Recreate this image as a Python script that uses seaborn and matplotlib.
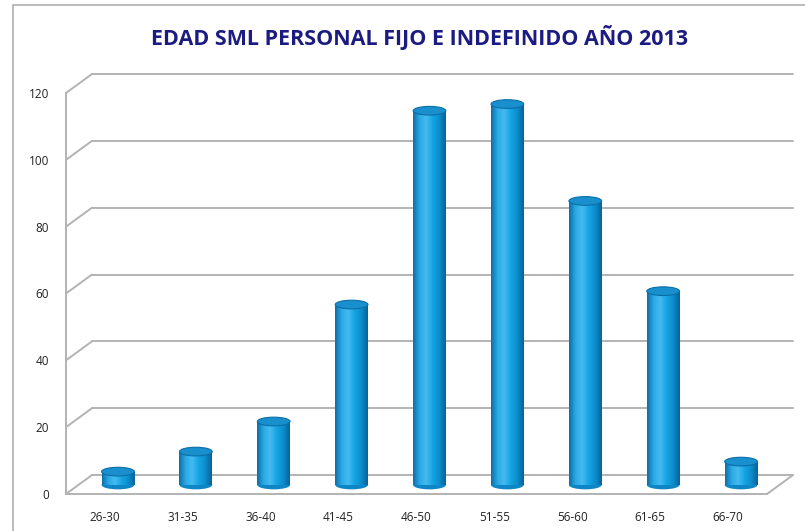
import seaborn as sns
import matplotlib.pyplot as plt
import matplotlib.transforms as mtransforms
from matplotlib.colors import LinearSegmentedColormap
from matplotlib.patches import Ellipse, Rectangle
import numpy as np
import pandas as pd

age_groups = ["26-30", "31-35", "36-40", "41-45", "46-50", "51-55", "56-60", "61-65", "66-70"]
counts = [4, 10, 19, 54, 112, 114, 85, 58, 7]
y_ticks = [0, 20, 40, 60, 80, 100, 120]

title = "EDAD SML PERSONAL FIJO E INDEFINIDO AÑO 2013"

df = pd.DataFrame({"Edad": age_groups, "Personal": counts})

sns.set_style("white")
plt.rcParams["font.family"] = ["Open Sans", "DejaVu Sans"]

fig = plt.figure(figsize=(8.05, 5.31), dpi=100)
ax = fig.add_axes([66 / 805, 37 / 531, (767 - 66) / 805, (494 - 93) / 531])

sns.barplot(x="Edad", y="Personal", data=df, color="#13a2e0", width=0.42,
            saturation=1, ax=ax, zorder=3)
ax.set_xlim(-0.5, len(age_groups) - 0.5)
ax.set_ylim(0, 120)

# depth offsets: bars stand halfway back, gridlines on the back wall
mid = mtransforms.offset_copy(ax.transData, fig=fig, x=13, y=9, units="dots")
back = mtransforms.offset_copy(ax.transData, fig=fig, x=26, y=19, units="dots")

# cylinder shading
cyl = LinearSegmentedColormap.from_list(
    "cyl", ["#0b6ea8", "#2aa9e6", "#45bbf0", "#15a3e2", "#0c8ccc", "#086297"])
grad = np.linspace(0, 1, 256).reshape(1, -1)
for bar in ax.patches:
    x0, w, h = bar.get_x(), bar.get_width(), bar.get_height()
    bar.set_facecolor("none")
    bar.set_edgecolor("none")
    bar.set_transform(mid)
    im = ax.imshow(grad, cmap=cyl, aspect="auto", extent=[x0, x0 + w, 0, h],
                   zorder=3, interpolation="bicubic")
    im.set_transform(mid)
    im.set_clip_path(bar)
    base = Ellipse((x0 + w / 2, 0), w, 2.6, facecolor="#0e85c4", edgecolor="none",
                   zorder=2.9, clip_on=False, transform=mid)
    ax.add_patch(base)
    top = Ellipse((x0 + w / 2, h), w, 2.6, facecolor="#1a8fce", edgecolor="#0b6ea8",
                  linewidth=0.8, zorder=4, clip_on=False, transform=mid)
    ax.add_patch(top)
ax.set_xlim(-0.5, len(age_groups) - 0.5)
ax.set_ylim(0, 120)

grid_kw = dict(color="#b3b3b3", linewidth=1.4, clip_on=False, zorder=1)
x_lo, x_hi = -0.5, len(age_groups) - 0.5
line_kw = dict(arrowstyle="-", color="#b3b3b3", lw=1.4, shrinkA=0, shrinkB=0)
for t in y_ticks:
    ax.plot([x_lo, x_hi], [t, t], transform=back, **grid_kw)
    ax.annotate("", xy=(x_lo, t), xycoords=back, xytext=(x_lo, t), textcoords="data",
                arrowprops=line_kw, zorder=1)
ax.annotate("", xy=(x_hi, 0), xycoords=back, xytext=(x_hi, 0), textcoords="data",
            arrowprops=line_kw, zorder=1)

for side in ["top", "right"]:
    ax.spines[side].set_visible(False)
for side in ["left", "bottom"]:
    ax.spines[side].set_color("#b3b3b3")
    ax.spines[side].set_linewidth(1.4)

ax.set_yticks(y_ticks)
ax.tick_params(axis="y", length=4, color="#b3b3b3", labelsize=8.5, labelcolor="#222222", pad=8)
ax.tick_params(axis="x", length=0, labelsize=8.5, labelcolor="#222222", pad=12)
ax.set_xticks(np.arange(len(age_groups)) - 0.5, minor=True)
ax.tick_params(axis="x", which="minor", length=3, color="#b3b3b3")
ax.set_xlabel("")
ax.set_ylabel("")
ax.patch.set_alpha(0)

fig.text(420 / 805, 1 - 38 / 531, title, ha="center", va="center",
         fontsize=15.5, fontweight="bold", color="#1b1b82",
         family=["Open Sans", "DejaVu Sans"])

# chart frame
fig.patches.append(Rectangle((13 / 805, -0.1), 1.2, 1 - 5 / 531 + 0.1,
                             transform=fig.transFigure, fill=False,
                             edgecolor="#b0b0b0", linewidth=1.2))

fig.savefig("out.png", dpi=100)
